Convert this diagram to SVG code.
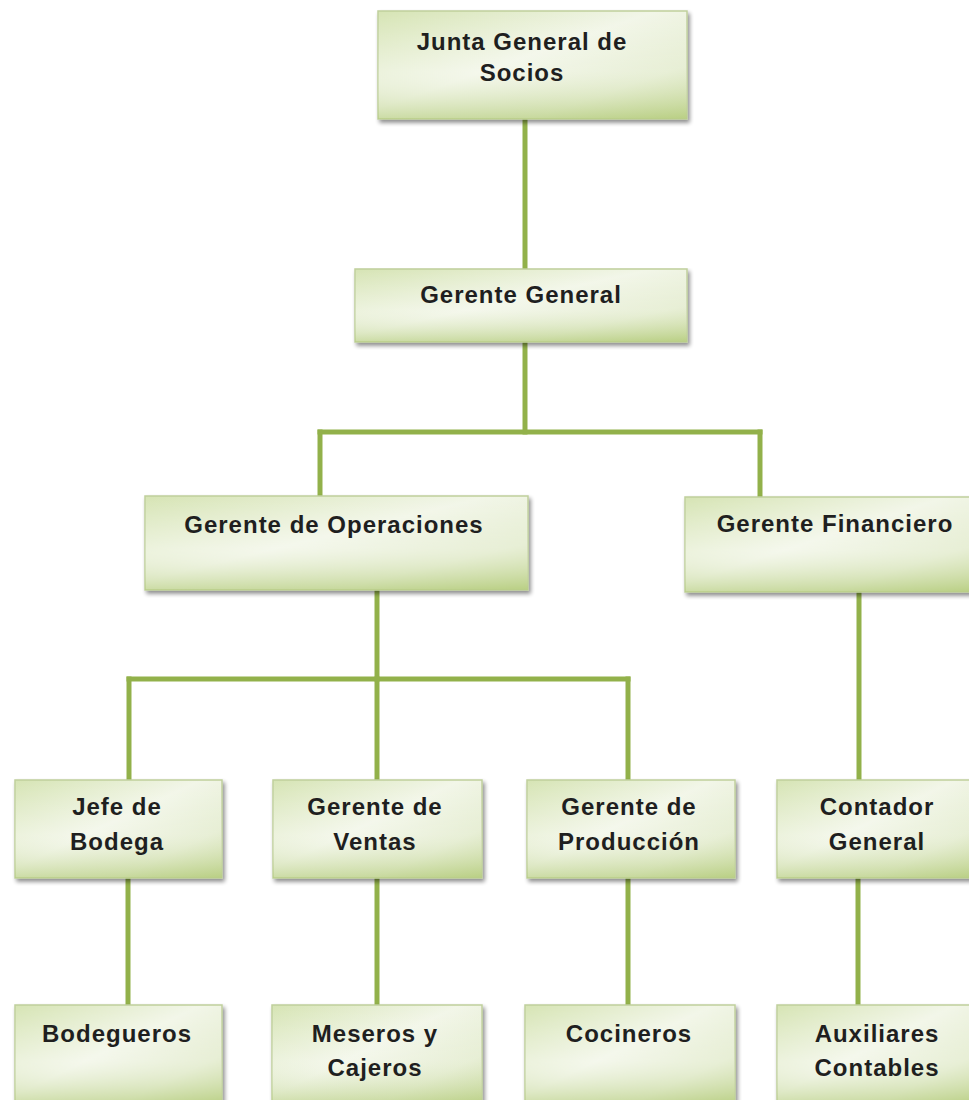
<svg xmlns="http://www.w3.org/2000/svg" width="969" height="1100" viewBox="0 0 969 1100">
<defs>
<linearGradient id="g1" x1="0" y1="0" x2="1" y2="1">
<stop offset="0" stop-color="#d6e4b4"/>
<stop offset="0.45" stop-color="#f2f6e8"/>
<stop offset="0.75" stop-color="#e2ebcc"/>
<stop offset="1" stop-color="#c2d592"/>
</linearGradient>
<linearGradient id="g2" x1="0" y1="0" x2="0" y2="1">
<stop offset="0" stop-color="#ffffff" stop-opacity="0"/>
<stop offset="0.55" stop-color="#ffffff" stop-opacity="0.2"/>
<stop offset="1" stop-color="#b3cb7a" stop-opacity="0.6"/>
</linearGradient>
<filter id="sh" x="-5%" y="-5%" width="112%" height="120%">
<feGaussianBlur in="SourceAlpha" stdDeviation="2"/>
<feOffset dx="2" dy="3"/>
<feComponentTransfer><feFuncA type="linear" slope="0.45"/></feComponentTransfer>
<feMerge><feMergeNode/><feMergeNode in="SourceGraphic"/></feMerge>
</filter>
</defs>
<style>
.box{fill:url(#g1);stroke:#c0cf9c;stroke-width:1.5;filter:url(#sh)}
.ov{fill:url(#g2)}
.t{font-family:"Liberation Sans",Arial,sans-serif;font-weight:bold;font-size:24px;letter-spacing:1px;fill:#1f1f1f;text-anchor:middle}
.c{stroke:#92b14a;stroke-width:5;fill:none;stroke-linecap:square}
</style>
<rect width="969" height="1100" fill="#ffffff"/>
<g id="connectors">
<path class="c" d="M525 120V268"/>
<path class="c" d="M525 342V432"/>
<path class="c" d="M320 432H760"/>
<path class="c" d="M320 432V495"/>
<path class="c" d="M760 432V497"/>
<path class="c" d="M377 590V679"/>
<path class="c" d="M129 679H628"/>
<path class="c" d="M129 679V780"/>
<path class="c" d="M377 679V780"/>
<path class="c" d="M628 679V780"/>
<path class="c" d="M859 592V780"/>
<path class="c" d="M128 878V1005"/>
<path class="c" d="M377 878V1005"/>
<path class="c" d="M628 878V1005"/>
<path class="c" d="M858 878V1005"/>
</g>
<g id="n-junta">
<rect class="box" x="378" y="11" width="309" height="108"/>
<rect class="ov" x="378" y="11" width="309" height="108"/>
<text class="t" x="522" y="50">Junta General de</text>
<text class="t" x="522" y="81">Socios</text>
</g>
<g id="n-gerente-general">
<rect class="box" x="355" y="269" width="332" height="73"/>
<rect class="ov" x="355" y="269" width="332" height="73"/>
<text class="t" x="521" y="303">Gerente General</text>
</g>
<g id="n-operaciones">
<rect class="box" x="145" y="496" width="383" height="94"/>
<rect class="ov" x="145" y="496" width="383" height="94"/>
<text class="t" x="334" y="533">Gerente de Operaciones</text>
</g>
<g id="n-financiero">
<rect class="box" x="685" y="497" width="290" height="95"/>
<rect class="ov" x="685" y="497" width="290" height="95"/>
<text class="t" x="835" y="532">Gerente Financiero</text>
</g>
<g id="n-jefe-bodega">
<rect class="box" x="15" y="780" width="207" height="98"/>
<rect class="ov" x="15" y="780" width="207" height="98"/>
<text class="t" x="117" y="815">Jefe de</text>
<text class="t" x="117" y="850">Bodega</text>
</g>
<g id="n-ventas">
<rect class="box" x="273" y="780" width="209" height="98"/>
<rect class="ov" x="273" y="780" width="209" height="98"/>
<text class="t" x="375" y="815">Gerente de</text>
<text class="t" x="375" y="850">Ventas</text>
</g>
<g id="n-produccion">
<rect class="box" x="527" y="780" width="208" height="98"/>
<rect class="ov" x="527" y="780" width="208" height="98"/>
<text class="t" x="629" y="815">Gerente de</text>
<text class="t" x="629" y="850">Producción</text>
</g>
<g id="n-contador">
<rect class="box" x="777" y="780" width="198" height="98"/>
<rect class="ov" x="777" y="780" width="198" height="98"/>
<text class="t" x="877" y="815">Contador</text>
<text class="t" x="877" y="850">General</text>
</g>
<g id="n-bodegueros">
<rect class="box" x="15" y="1005" width="207" height="100"/>
<rect class="ov" x="15" y="1005" width="207" height="100"/>
<text class="t" x="117" y="1042">Bodegueros</text>
</g>
<g id="n-meseros">
<rect class="box" x="272" y="1005" width="210" height="100"/>
<rect class="ov" x="272" y="1005" width="210" height="100"/>
<text class="t" x="375" y="1042">Meseros y</text>
<text class="t" x="375" y="1076">Cajeros</text>
</g>
<g id="n-cocineros">
<rect class="box" x="525" y="1005" width="210" height="100"/>
<rect class="ov" x="525" y="1005" width="210" height="100"/>
<text class="t" x="629" y="1042">Cocineros</text>
</g>
<g id="n-auxiliares">
<rect class="box" x="777" y="1005" width="198" height="100"/>
<rect class="ov" x="777" y="1005" width="198" height="100"/>
<text class="t" x="877" y="1042">Auxiliares</text>
<text class="t" x="877" y="1076">Contables</text>
</g>
</svg>
